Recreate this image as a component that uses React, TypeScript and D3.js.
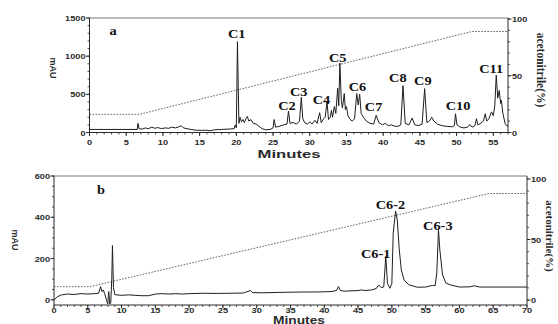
import { useMemo } from 'react';
import * as d3 from 'd3';

type Pt = [number, number];

// ---- panel a : crude extract (minutes, mAU) ----
const traceA: Pt[] = [
  [0, 40], [6.5, 40], [6.6, 120], [6.75, 50], [7.2, 45], [7.6, 60], [8.0, 50], [8.5, 70], [8.9, 55],
  [9.3, 65], [9.8, 50], [10.3, 60], [10.8, 55], [11.2, 70], [11.7, 60], [12.2, 75], [12.5, 90],
  [12.8, 60], [13.3, 50], [13.8, 40], [14.5, 30], [15.2, 28], [16.0, 30], [16.4, 22], [17.0, 35],
  [18.0, 40], [19.0, 45], [19.7, 50], [19.85, 100], [20.0, 60], [20.15, 1190], [20.35, 120],
  [20.5, 200], [20.7, 140], [20.9, 170], [21.1, 130], [21.3, 180], [21.5, 210], [21.7, 150],
  [22.0, 170], [22.3, 120], [22.7, 110], [23.1, 80], [23.5, 50], [24.0, 35], [24.6, 40], [25.0, 60],
  [25.15, 170], [25.35, 70], [25.8, 80], [26.4, 100], [26.9, 110], [27.1, 280], [27.3, 120],
  [27.7, 130], [28.2, 110], [28.6, 150], [28.85, 460], [29.05, 180], [29.3, 130], [29.7, 110],
  [30.0, 140], [30.3, 110], [30.7, 160], [31.0, 120], [31.35, 260], [31.55, 130], [31.9, 180],
  [32.1, 200], [32.35, 400], [32.55, 170], [32.8, 200], [32.95, 290], [33.1, 200], [33.35, 340],
  [33.55, 250], [33.8, 580], [33.95, 350], [34.1, 910], [34.3, 420], [34.45, 320], [34.7, 510],
  [34.85, 300], [35.0, 340], [35.2, 220], [35.5, 170], [35.8, 150], [36.1, 180], [36.4, 510],
  [36.6, 360], [36.8, 500], [37.0, 250], [37.3, 200], [37.7, 150], [38.2, 120], [38.7, 110],
  [39.05, 225], [39.4, 130], [39.9, 100], [40.3, 120], [40.7, 90], [41.1, 100], [41.5, 85],
  [42.0, 80], [42.4, 100], [42.7, 615], [43.0, 120], [43.5, 100], [43.95, 190], [44.3, 100],
  [44.8, 90], [45.3, 110], [45.65, 575], [45.95, 130], [46.3, 150], [46.6, 200], [46.9, 150],
  [47.4, 110], [48.0, 90], [48.7, 80], [49.4, 75], [49.7, 90], [49.85, 245], [50.05, 100],
  [50.5, 70], [51.0, 60], [51.5, 70], [51.8, 105], [52.1, 70], [52.5, 90], [52.7, 180], [52.9, 100],
  [53.3, 120], [53.65, 150], [53.9, 245], [54.1, 150], [54.4, 180], [54.75, 270], [55.0, 220],
  [55.2, 350], [55.4, 750], [55.6, 450], [55.8, 550], [56.0, 380], [56.1, 420], [56.3, 250],
  [56.6, 120], [56.8, 90], [57, 85],
];
const gradientA: Pt[] = [[0, 16], [6.8, 16], [52.1, 89], [57, 89]];
const peakNamesA = ['C1', 'C2', 'C3', 'C4', 'C5', 'C6', 'C7', 'C8', 'C9', 'C10', 'C11'];
const peakTimesA = [20.05, 26.9, 28.5, 31.6, 33.8, 36.5, 38.7, 42.0, 45.4, 50.2, 54.7];
const peakLevelsA = [1237, 290, 474, 368, 921, 540, 276, 658, 618, 290, 776];
const minuteTicksA = [0, 5, 10, 15, 20, 25, 30, 35, 40, 45, 50, 55];
const mauTicksA = [0, 500, 1000, 1500];

// ---- panel b : C6 fraction ----
const traceB: Pt[] = [
  [0, 0], [0.5, 15], [1.1, 24], [2, 28], [3, 26], [4, 30], [5, 28], [6, 30], [6.6, 32], [6.9, 64],
  [7.1, 40], [7.3, 48], [7.5, 30], [7.8, -5], [7.95, -20], [8.1, 40], [8.25, -20], [8.4, -15],
  [8.55, 100], [8.65, 263], [8.8, 60], [9.0, 25], [10, 22], [11, 24], [12, 22], [13, 20], [14, 20],
  [15, 28], [16, 30], [17, 28], [18, 30], [19, 28], [20, 30], [22, 32], [24, 31], [26, 32], [28, 33],
  [29.1, 45], [29.4, 35], [31, 34], [33, 36], [35, 37], [37, 38], [39, 38], [41, 40], [41.8, 45],
  [42.1, 64], [42.4, 45], [43, 42], [45, 45], [45.5, 48], [46, 45], [47, 48], [47.7, 55], [48.05, 72],
  [48.4, 60], [48.8, 62], [49.1, 210], [49.35, 80], [49.7, 56], [50.0, 80], [50.2, 323], [50.55, 430],
  [50.8, 387], [51.1, 242], [51.4, 145], [51.8, 97], [52.5, 73], [53.8, 61], [55, 62], [56.0, 70],
  [56.4, 68], [56.65, 130], [56.9, 339], [57.1, 242], [57.5, 121], [58.0, 81], [58.7, 72], [60, 62],
  [61.5, 63], [62.2, 68], [63, 62], [65, 62], [70, 62],
];
const gradientB: Pt[] = [[0, 11], [5.3, 11], [64.4, 88], [70, 88]];
const peakNamesB = ['C6-1', 'C6-2', 'C6-3'];
const peakTimesB = [47.6, 49.8, 56.8];
const peakLevelsB = [203, 440, 339];
const minuteTicksB = [0, 5, 10, 15, 20, 25, 30, 35, 40, 45, 50, 55, 60, 65, 70];
const mauTicksB = [0, 200, 400, 600];

const pctTicks = [0, 50, 100];

const SANS = 'Liberation Sans, Arial, sans-serif';
const SERIF = 'Liberation Serif, Times New Roman, serif';
const INK = '#2a2a2a';

type PanelProps = {
  tag: string;
  trace: Pt[];
  gradient: Pt[];
  names: string[];
  times: number[];
  levels: number[];
  xMax: number;
  xTicks: number[];
  yDomain: [number, number];
  yTicks: number[];
  yMinor: number;
  left: number;
  right: number;
  top: number;
  bottom: number;
  tickGap: number;
  pctZero: number;
  pctTop: number;
  tagPos: [number, number];
  mauPos: [number, number];
  acnPos: [number, number];
  acnSize: number;
  minutesPos: [number, number, number];
};

function Panel(p: PanelProps) {
  const x = d3.scaleLinear().domain([0, p.xMax]).range([p.left, p.right]);
  const y = d3.scaleLinear().domain(p.yDomain).range([p.bottom, p.top]);
  const yp = d3.scaleLinear().domain([0, 100]).range([p.pctZero, p.pctTop]);

  const line = d3.line<Pt>().x((d) => x(d[0])).y((d) => y(d[1]));
  const gline = d3.line<Pt>().x((d) => x(d[0])).y((d) => yp(d[1]));

  const minorX = d3.range(0, p.xMax + 0.001, 1);
  const minorY = d3.range(0, p.yDomain[1] + 0.001, p.yMinor);
  const minorP = d3.range(0, 100.001, 10);

  return (
    <g>
      {/* frame */}
      <line x1={p.left} x2={p.right} y1={p.top} y2={p.top} stroke="#777" strokeWidth={1} />
      <line x1={p.left} x2={p.left} y1={p.top} y2={p.bottom} stroke={INK} strokeWidth={1} />
      <line x1={p.right} x2={p.right} y1={p.top} y2={p.bottom} stroke={INK} strokeWidth={1} />
      <line x1={p.left} x2={p.right} y1={p.bottom} y2={p.bottom} stroke={INK} strokeWidth={1} />

      {/* bottom ticks */}
      {minorX.map((t) => (
        <line key={'mx' + t} x1={x(t)} x2={x(t)} y1={p.bottom} y2={p.bottom + 2} stroke={INK} strokeWidth={0.8} />
      ))}
      {p.xTicks.map((t) => (
        <g key={'x' + t}>
          <line x1={x(t)} x2={x(t)} y1={p.bottom} y2={p.bottom + 3.5} stroke={INK} strokeWidth={1} />
          <text
            transform={`translate(${x(t)},${p.bottom + p.tickGap}) scale(1.15,1)`}
            textAnchor="middle"
            fontFamily={SANS}
            fontWeight="bold"
            fontSize={8}
            fill={INK}
          >
            {t}
          </text>
        </g>
      ))}

      {/* left ticks */}
      {minorY.map((t) => (
        <line key={'my' + t} x1={p.left - 2} x2={p.left} y1={y(t)} y2={y(t)} stroke={INK} strokeWidth={0.8} />
      ))}
      {p.yTicks.map((t) => (
        <g key={'y' + t}>
          <line x1={p.left - 3.5} x2={p.left} y1={y(t)} y2={y(t)} stroke={INK} strokeWidth={1} />
          <text
            transform={`translate(${p.left - 4},${y(t) + 3}) scale(1.15,1)`}
            textAnchor="end"
            fontFamily={SANS}
            fontWeight="bold"
            fontSize={8}
            fill={INK}
          >
            {t}
          </text>
        </g>
      ))}

      {/* right ticks */}
      {minorP.map((t) => (
        <line key={'mp' + t} x1={p.right} x2={p.right + 2} y1={yp(t)} y2={yp(t)} stroke={INK} strokeWidth={0.8} />
      ))}
      {pctTicks.map((t) => (
        <g key={'p' + t}>
          <line x1={p.right} x2={p.right + 3.5} y1={yp(t)} y2={yp(t)} stroke={INK} strokeWidth={1} />
          <text
            transform={`translate(${p.right + 4},${yp(t) + 3}) scale(1.15,1)`}
            fontFamily={SANS}
            fontWeight="bold"
            fontSize={8}
            fill={INK}
          >
            {t}
          </text>
        </g>
      ))}

      {/* acetonitrile gradient */}
      <path d={gline(p.gradient) ?? ''} fill="none" stroke="#555" strokeWidth={0.9} strokeDasharray="1.6,1.4" />

      {/* chromatogram */}
      <path d={line(p.trace) ?? ''} fill="none" stroke="#1e1e1e" strokeWidth={1} strokeLinejoin="round" />

      {/* peak labels */}
      {p.names.map((n, i) => (
        <text
          key={n}
          transform={`translate(${x(p.times[i])},${y(p.levels[i])}) scale(1.25,1)`}
          textAnchor="middle"
          fontFamily={SERIF}
          fontWeight="bold"
          fontSize={11.5}
          fill="#111"
        >
          {n}
        </text>
      ))}

      <text
        transform={`translate(${p.tagPos[0]},${p.tagPos[1]}) scale(1.2,1)`}
        textAnchor="middle"
        fontFamily={SERIF}
        fontWeight="bold"
        fontSize={12}
        fill="#111"
      >
        {p.tag}
      </text>

      <text
        transform={`translate(${p.mauPos[0]},${p.mauPos[1]}) rotate(90)`}
        textAnchor="middle"
        fontFamily={SANS}
        fontWeight="bold"
        fontSize={9}
        fill={INK}
      >
        mAU
      </text>

      <text
        transform={`translate(${p.acnPos[0]},${p.acnPos[1]}) rotate(90)`}
        textAnchor="middle"
        fontFamily={SERIF}
        fontWeight="bold"
        fontSize={p.acnSize}
        fill={INK}
      >
        acetonitrile(%)
      </text>

      <text
        x={p.minutesPos[0]}
        y={p.minutesPos[1]}
        textAnchor="middle"
        fontFamily={SANS}
        fontWeight="bold"
        fontSize={10}
        textLength={p.minutesPos[2]}
        lengthAdjust="spacingAndGlyphs"
        fill={INK}
      >
        Minutes
      </text>
    </g>
  );
}

export default function App() {
  const panels = useMemo(
    () => [
      {
        tag: 'a',
        trace: traceA,
        gradient: gradientA,
        names: peakNamesA,
        times: peakTimesA,
        levels: peakLevelsA,
        xMax: 57,
        xTicks: minuteTicksA,
        yDomain: [0, 1500] as [number, number],
        yTicks: mauTicksA,
        yMinor: 100,
        left: 89.5,
        right: 508,
        top: 18,
        bottom: 132.5,
        tickGap: 12,
        pctZero: 132.5,
        pctTop: 19,
        tagPos: [113, 35] as [number, number],
        mauPos: [49.5, 68] as [number, number],
        acnPos: [537, 70] as [number, number],
        acnSize: 11.5,
        minutesPos: [289, 158, 63] as [number, number, number],
      },
      {
        tag: 'b',
        trace: traceB,
        gradient: gradientB,
        names: peakNamesB,
        times: peakTimesB,
        levels: peakLevelsB,
        xMax: 70,
        xTicks: minuteTicksB,
        yDomain: [-25, 600] as [number, number],
        yTicks: mauTicksB,
        yMinor: 50,
        left: 54,
        right: 527,
        top: 176,
        bottom: 305,
        tickGap: 8,
        pctZero: 300,
        pctTop: 179,
        tagPos: [101, 194] as [number, number],
        mauPos: [11.5, 240] as [number, number],
        acnPos: [546, 236] as [number, number],
        acnSize: 11,
        minutesPos: [299, 323.5, 52] as [number, number, number],
      },
    ],
    []
  );

  return (
    <svg
      width={558}
      height={324}
      style={{ position: 'absolute', left: 0, top: 0, background: '#fff' }}
    >
      {panels.map((p) => (
        <Panel key={p.tag} {...p} />
      ))}
    </svg>
  );
}
